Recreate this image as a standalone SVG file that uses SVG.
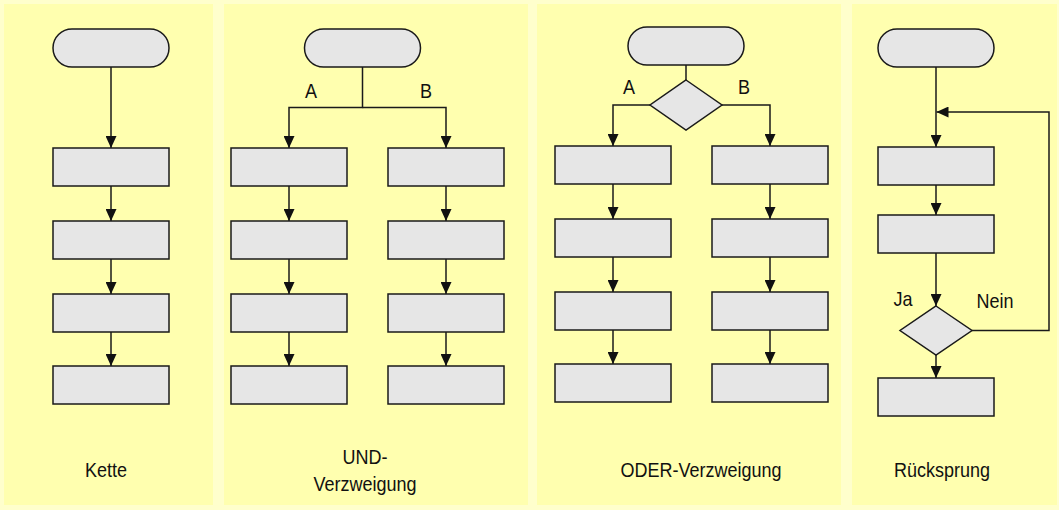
<svg xmlns="http://www.w3.org/2000/svg" width="1059" height="510" viewBox="0 0 1059 510">
<style>
.panel{fill:#FFFFAF;stroke:none}
.box{fill:#E6E6E6;stroke:#1a1a1a;stroke-width:1.5}
.con{fill:none;stroke:#1a1a1a;stroke-width:1.5}
.arr{marker-end:url(#ah)}
.t{font-family:"Liberation Sans",Arial,sans-serif;font-size:20px;fill:#111;text-anchor:middle}
</style>
<defs>
<marker id="ah" viewBox="0 0 12 11" refX="12" refY="5.5" markerWidth="12" markerHeight="11" markerUnits="userSpaceOnUse" orient="auto">
<path d="M0,0 L12,5.5 L0,11 z" fill="#111"/>
</marker>
</defs>
<rect x="0" y="0" width="1059" height="510" fill="#FFFFCC"/>
<g id="panels">
<rect class="panel" x="4" y="4" width="209" height="501"/>
<rect class="panel" x="224" y="4" width="304" height="501"/>
<rect class="panel" x="537" y="4" width="304" height="501"/>
<rect class="panel" x="852" y="4" width="205" height="501"/>
</g>
<g id="connectors">
<path class="con arr" d="M111,67 V148"/>
<path class="con arr" d="M111,186 V221"/>
<path class="con arr" d="M111,259 V294"/>
<path class="con arr" d="M111,332 V366"/>
<path class="con arr" d="M362.5,67 V107.5 H289 V148"/>
<path class="con arr" d="M362.5,107.5 H446 V148"/>
<path class="con arr" d="M289,186 V221"/>
<path class="con arr" d="M289,259 V294"/>
<path class="con arr" d="M289,332 V366"/>
<path class="con arr" d="M446,186 V221"/>
<path class="con arr" d="M446,259 V294"/>
<path class="con arr" d="M446,332 V366"/>
<path class="con" d="M686,65 V80"/>
<path class="con arr" d="M650,105 H613 V146"/>
<path class="con arr" d="M722,105 H770 V146"/>
<path class="con arr" d="M613,184 V219"/>
<path class="con arr" d="M613,257 V292"/>
<path class="con arr" d="M613,330 V364"/>
<path class="con arr" d="M770,184 V219"/>
<path class="con arr" d="M770,257 V292"/>
<path class="con arr" d="M770,330 V364"/>
<path class="con arr" d="M936,67 V147"/>
<path class="con arr" d="M936,185 V215"/>
<path class="con arr" d="M936,253 V306"/>
<path class="con arr" d="M936,355 V378"/>
<path class="con arr" d="M972,330.5 H1049 V112 H936.5"/>
</g>
<g id="kette">
<rect id="k0" class="box" x="53" y="29" width="116" height="38" rx="19"/>
<rect id="k1" class="box" x="53" y="148" width="116" height="38"/>
<rect id="k2" class="box" x="53" y="221" width="116" height="38"/>
<rect id="k3" class="box" x="53" y="294" width="116" height="38"/>
<rect id="k4" class="box" x="53" y="366" width="116" height="38"/>
<text class="t" transform="translate(106,477) scale(0.9,1)">Kette</text>
</g>
<g id="und">
<rect id="u0" class="box" x="304.5" y="29" width="116" height="38" rx="19"/>
<rect id="ua1" class="box" x="231" y="148" width="116" height="38"/>
<rect id="ua2" class="box" x="231" y="221" width="116" height="38"/>
<rect id="ua3" class="box" x="231" y="294" width="116" height="38"/>
<rect id="ua4" class="box" x="231" y="366" width="116" height="38"/>
<rect id="ub1" class="box" x="388" y="148" width="116" height="38"/>
<rect id="ub2" class="box" x="388" y="221" width="116" height="38"/>
<rect id="ub3" class="box" x="388" y="294" width="116" height="38"/>
<rect id="ub4" class="box" x="388" y="366" width="116" height="38"/>
<text class="t" transform="translate(311,98) scale(0.9,1)">A</text>
<text class="t" transform="translate(426,98) scale(0.9,1)">B</text>
<text class="t" transform="translate(365,464) scale(0.9,1)">UND-</text>
<text class="t" transform="translate(365,491) scale(0.9,1)">Verzweigung</text>
</g>
<g id="oder">
<rect id="o0" class="box" x="628" y="27" width="116" height="38" rx="19"/>
<polygon id="od" class="box" points="686,80 722,105 686,130 650,105"/>
<rect id="oa1" class="box" x="555" y="146" width="116" height="38"/>
<rect id="oa2" class="box" x="555" y="219" width="116" height="38"/>
<rect id="oa3" class="box" x="555" y="292" width="116" height="38"/>
<rect id="oa4" class="box" x="555" y="364" width="116" height="38"/>
<rect id="ob1" class="box" x="712" y="146" width="116" height="38"/>
<rect id="ob2" class="box" x="712" y="219" width="116" height="38"/>
<rect id="ob3" class="box" x="712" y="292" width="116" height="38"/>
<rect id="ob4" class="box" x="712" y="364" width="116" height="38"/>
<text class="t" transform="translate(629,94) scale(0.9,1)">A</text>
<text class="t" transform="translate(744,94) scale(0.9,1)">B</text>
<text class="t" transform="translate(701,477) scale(0.9,1)">ODER-Verzweigung</text>
</g>
<g id="rueck">
<rect id="r0" class="box" x="878" y="29" width="116" height="38" rx="19"/>
<rect id="r1" class="box" x="878" y="147" width="116" height="38"/>
<rect id="r2" class="box" x="878" y="215" width="116" height="38"/>
<polygon id="rd" class="box" points="936,306 972,330.5 936,355 900,330.5"/>
<rect id="r3" class="box" x="878" y="378" width="116" height="38"/>
<text class="t" transform="translate(903,306) scale(0.9,1)">Ja</text>
<text class="t" transform="translate(995,308) scale(0.9,1)">Nein</text>
<text class="t" transform="translate(942,477) scale(0.9,1)">Rücksprung</text>
</g>
</svg>
